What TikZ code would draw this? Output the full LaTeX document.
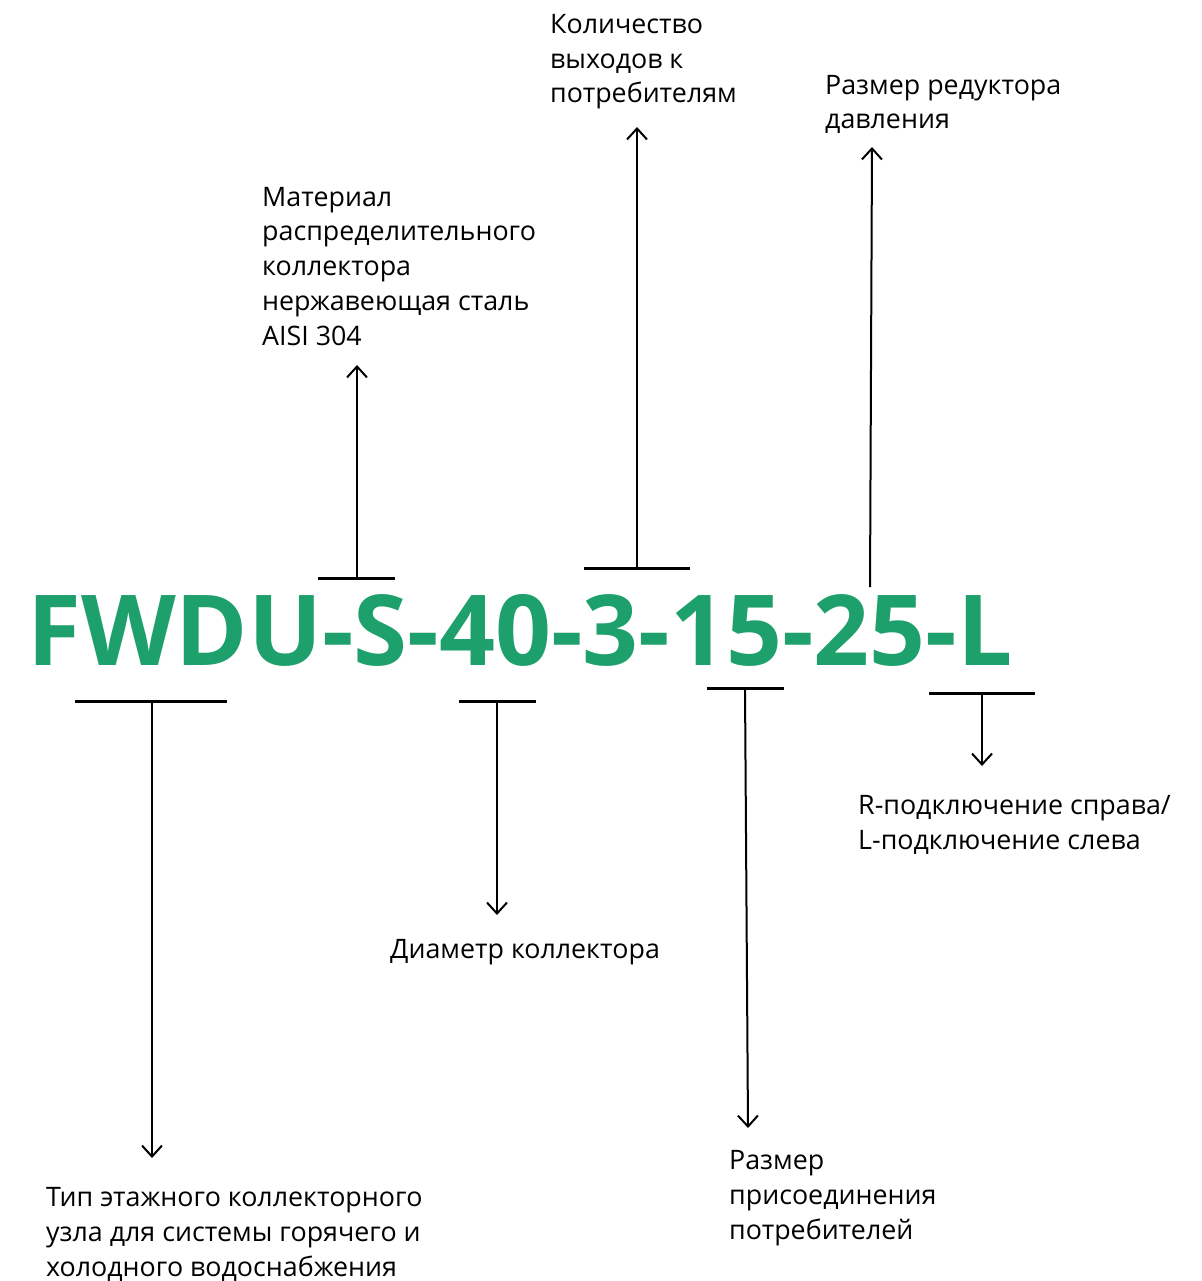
\documentclass[tikz,border=0pt]{standalone}
\usepackage{fontspec}
\setmainfont{Open Sans}
\usepackage{tikz}
\usetikzlibrary{arrows.meta}
\definecolor{fwdgreen}{RGB}{30,160,108}
\tikzset{
  code/.style = {inner sep=0pt, anchor=base west, text=fwdgreen,
    font=\fontsize{98}{98}\selectfont\bfseries},% marking of the unit
  caption/.style = {inner sep=0pt, anchor=base west, align=left,
    font=\fontsize{26.8}{34.7}\selectfont},% explanation text, base = last line
  bar/.style = {line width=3pt},% bracket under/over a field
  pointer/.style = {line width=2pt,
    -{Straight Barb[length=11pt,width=20pt]}}% arrow to the explanation
}

\begin{document}
\begin{tikzpicture}[x=1pt, y=-1pt]
	\useasboundingbox (0,0) rectangle (1201,1281);
	% marking
	\node [code] (mark) at (27,665) {FWDU-S-40-3-15-25-L};
	% explanations
	\node [caption] (kol) at (550,103) {Количество\\выходов к\\потребителям};
	\node [caption] (red) at (825,129) {Размер редуктора\\давления};
	\node [caption] (mat) at (262,345) {Материал\\распределительного\\коллектора\\нержавеющая сталь\\AISI 304};
	\node [caption] (rl) at (858,849) {R-подключение справа/\\L-подключение слева};
	\node [caption] (diam) at (390,958) {Диаметр коллектора};
	\node [caption] (pris) at (729,1239) {Размер\\присоединения\\потребителей};
	\node [caption] (tip) at (46,1276) {Тип этажного коллекторного\\узла для системы горячего и\\холодного водоснабжения};
	% brackets
	\coordinate (tip-a) at (152,701);
	\coordinate (mat-a) at (357,578);
	\coordinate (diam-a) at (497,701);
	\coordinate (kol-a) at (637,568);
	\coordinate (pris-a) at (745,688);
	\coordinate (red-a) at (870,587);
	\coordinate (rl-a) at (982,693);
	\draw [bar] (75,701) -- (227,701);
	\draw [bar] (318,578) -- (395,578);
	\draw [bar] (459,701) -- (536,701);
	\draw [bar] (584,568) -- (690,568);
	\draw [bar] (707,688) -- (784,688);
	\draw [bar] (929,693) -- (1035,693);
	% arrows
	\coordinate (tip-b) at (152,1158);
	\coordinate (mat-b) at (357,365);
	\coordinate (diam-b) at (497,915);
	\coordinate (kol-b) at (637,127);
	\coordinate (pris-b) at (748,1128);
	\coordinate (red-b) at (872,147);
	\coordinate (rl-b) at (982,766);
	\draw [pointer] (tip-a) -- (tip-b);
	\draw [pointer] (mat-a) -- (mat-b);
	\draw [pointer] (diam-a) -- (diam-b);
	\draw [pointer] (kol-a) -- (kol-b);
	\draw [pointer] (pris-a) -- (pris-b);
	\draw [pointer] (red-a) -- (red-b);
	\draw [pointer] (rl-a) -- (rl-b);
\end{tikzpicture}
\end{document}
